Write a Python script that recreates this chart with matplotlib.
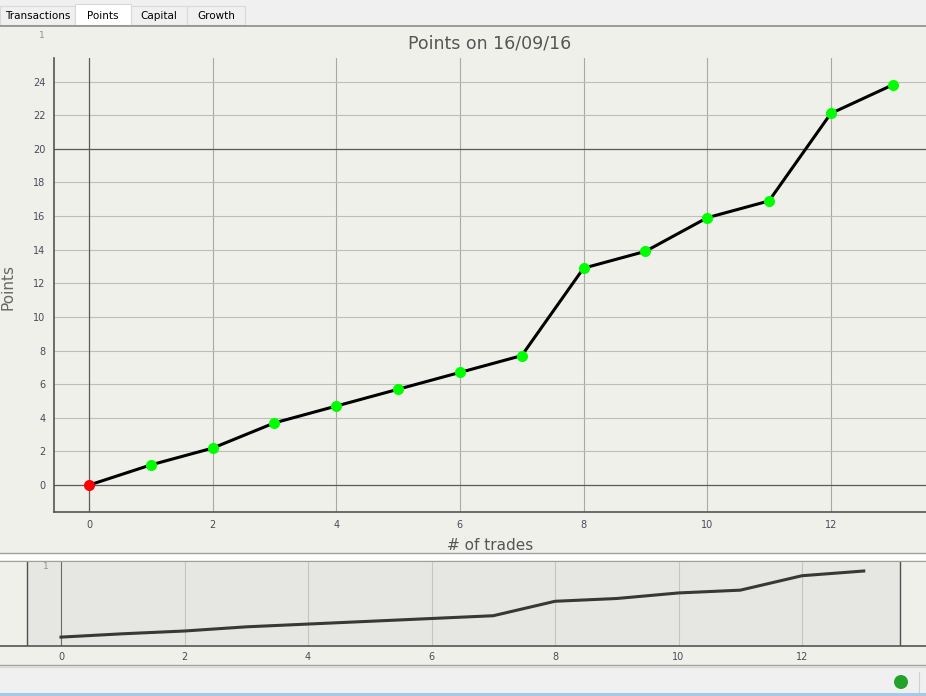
import numpy as np
import matplotlib
matplotlib.use("Agg")
import matplotlib.pyplot as plt
from matplotlib.patches import Rectangle, Circle

# data
trades = [0, 1, 2, 3, 4, 5, 6, 7, 8, 9, 10, 11, 12, 13]
points = [0.0, 1.2, 2.2, 3.7, 4.7, 5.7, 6.7, 7.7, 12.9, 13.9, 15.9, 16.9, 22.1, 23.8]
tabs = ['Transactions', 'Points', 'Capital', 'Growth']
title = 'Points on 16/09/16'

W, H = 926, 696
BG = '#f0f0eb'
TXT = '#4a4a5a'


def box(l, t, r, b):
    return [l / W, 1 - b / H, (r - l) / W, (b - t) / H]


fig = plt.figure(figsize=(W / 100, H / 100), dpi=100)
fig.patch.set_facecolor(BG)

# window chrome drawn in pixel coords
ui = fig.add_axes([0, 0, 1, 1])
ui.set_xlim(0, W)
ui.set_ylim(H, 0)
ui.axis('off')
ui.add_patch(Rectangle((0, 0), W, 25, fc='#f0f0f0', ec='none'))
tab_x = [0, 75, 131, 187, 245]
for i, name in enumerate(tabs):
    sel = name == 'Points'
    top = 4 if sel else 6
    ui.add_patch(Rectangle((tab_x[i], top), tab_x[i + 1] - tab_x[i], 25 - top,
                           fc='white' if sel else '#f0f0f0', ec='#d9d9d9', lw=0.8))
    ui.text((tab_x[i] + tab_x[i + 1]) / 2, 16, name, ha='center', va='center',
            fontsize=7.5, color='black')
ui.plot([0, W], [25.5, 25.5], color='#8c8c8c', lw=1.2)
ui.plot([0, W], [553, 553], color='#a0a0a0', lw=1)
ui.add_patch(Rectangle((0, 554), W, 6, fc='white', ec='none'))
ui.plot([0, W], [665, 665], color='#a0a0a0', lw=1)
ui.add_patch(Rectangle((0, 667), W, 26, fc='#f0f0f0', ec='none'))
ui.plot([0, W], [667, 667], color='#d8d8d8', lw=1)
ui.add_patch(Rectangle((0, 693), W, 3, fc='#a8c8e8', ec='none'))
ui.add_patch(Circle((901, 682), 7, fc='#22a22a', ec='none'))
ui.plot([919, 919], [672, 692], color='#d0d0d0', lw=0.8)
ui.text(45, 35, '1', fontsize=6.5, color='#909090', ha='right', va='center')
ui.text(490, 44, title, fontsize=12.5, color='#555555', ha='center', va='center')
ui.text(8, 287, 'Points', fontsize=11, color='#666666', rotation=90,
        ha='center', va='center')
ui.text(490, 545, '# of trades', fontsize=11, color='#555555', ha='center', va='center')

# main plot
ax = fig.add_axes(box(54, 58, 926, 512))
ax.set_facecolor('none')
ax.set_xlim(-0.566, 13.54)
ax.set_ylim(-1.6, 25.4)
for s in ['top', 'right']:
    ax.spines[s].set_visible(False)
for s in ['left', 'bottom']:
    ax.spines[s].set_color('#555555')
    ax.spines[s].set_linewidth(1.2)
ax.set_xticks(np.arange(0, 13, 2))
ax.set_yticks(np.arange(0, 25, 2))
ax.tick_params(length=0, labelsize=7, labelcolor=TXT, pad=6)
for xv in np.arange(2, 13, 2):
    ax.axvline(xv, color='#a8a8a8', lw=0.8, zorder=0)
for yv in np.arange(2, 25, 2):
    ax.axhline(yv, color='#bdbdbd', lw=0.8, zorder=0)
ax.axvline(0, color='#5a5a5a', lw=0.9, zorder=0)
ax.axhline(0, color='#5a5a5a', lw=0.9, zorder=0)
ax.axhline(20, color='#5a5a5a', lw=0.9, zorder=0)
ax.plot(trades, points, color='black', lw=2.2, zorder=2)
ax.plot(trades[1:], points[1:], 'o', color='#00ff00', ms=8, mec='none', zorder=3)
ax.plot(trades[:1], points[:1], 'o', color='#ff0000', ms=8, mec='none', zorder=3)

# overview strip
ov = fig.add_axes(box(0, 561, 926, 646))
ov.set_facecolor(BG)
ov.set_xlim(-0.988, 14.008)
ov.set_ylim(-3.2, 27.4)
ov.axvspan(-0.55, 13.58, color='#e6e6e2', zorder=0)
ov.axvline(-0.55, color='#505050', lw=1, zorder=1)
ov.axvline(13.58, color='#505050', lw=1, zorder=1)
for xv in np.arange(2, 13, 2):
    ov.axvline(xv, color='#c4c4c4', lw=0.8, zorder=1)
ov.axvline(0, color='#6a6a6a', lw=0.8, zorder=1)
ov.plot(trades, points, color='#383838', lw=2.2, zorder=2)
for s in ['left', 'right']:
    ov.spines[s].set_visible(False)
ov.spines['top'].set_color('#a0a0a0')
ov.spines['bottom'].set_color('#555555')
ov.spines['bottom'].set_linewidth(1.2)
ov.set_yticks([])
ov.set_xticks(np.arange(0, 13, 2))
ov.tick_params(length=0, labelsize=7, labelcolor=TXT, pad=4)
ov.text(-0.2, 25.5, '1', fontsize=6.5, color='#909090', ha='right', va='center')

fig.savefig('out.png', dpi=100, facecolor=fig.get_facecolor())
